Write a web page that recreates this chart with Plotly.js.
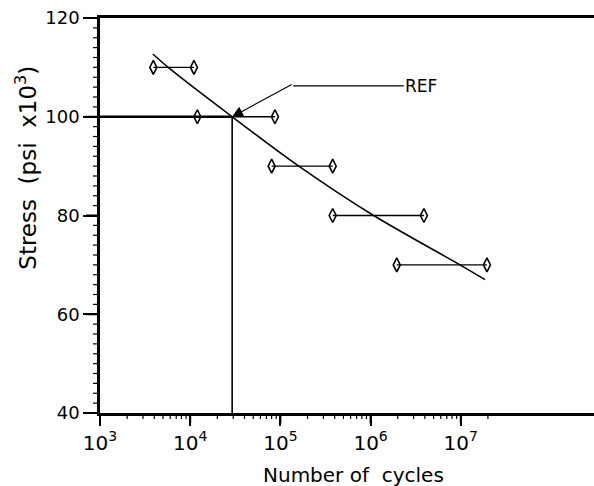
<!DOCTYPE html>
<html>
<head>
<meta charset="utf-8">
<script src="https://cdn.plot.ly/plotly-3.0.1.min.js"></script>
<style>html,body{margin:0;padding:0;background:#fff;}#chart{width:594px;height:486px;}</style>
</head>
<body>
<div id="chart"></div>
<script>
// Test data: stress level (ksi) and the range of cycles to failure
var stressLevels = [110, 100, 90, 80, 70];
var cyclesMin = [3900, 12000, 80000, 380000, 1950000];
var cyclesMax = [11000, 87000, 380000, 3900000, 19500000];

// Fitted S-N curve
var curveCycles = [3850, 5700, 29200, 160000, 1080000, 9800000, 18600000];
var curveStress = [112.7, 110, 100, 90, 80, 70, 67];

// Reference point
var refCycles = 29200;
var refStress = 100;
var axisMinCycles = 1000;
var axisMinStress = 40;

// Tick values and labels
var majorTickVals = [1e3, 1e4, 1e5, 1e6, 1e7];
var majorTickText = ['10<sup>3</sup>', '10<sup>4</sup>', '10<sup>5</sup>', '10<sup>6</sup>', '10<sup>7</sup>'];
var minorDecades = [1e3, 1e4, 1e5, 1e6];
var minorDigits = [2, 3, 4, 5, 6, 7, 8, 9];
var extraMinorTicks = [2e7];
var yMajorTicks = [40, 60, 80, 100, 120];
var yMinorStep = 2;

var minorTickVals = [];
minorDecades.forEach(function (d) {
  minorDigits.forEach(function (k) { minorTickVals.push(k * d); });
});
minorTickVals = minorTickVals.concat(extraMinorTicks);
var yMinorTicks = [];
for (var s = yMajorTicks[0]; s <= yMajorTicks[yMajorTicks.length - 1]; s += yMinorStep) {
  if (yMajorTicks.indexOf(s) < 0) yMinorTicks.push(s);
}

var rangeX = [], rangeY = [];
for (var i = 0; i < stressLevels.length; i++) {
  rangeX.push(cyclesMin[i], cyclesMax[i], null);
  rangeY.push(stressLevels[i], stressLevels[i], null);
}

// tick-mark segments, drawn in thin strip subplots that share the main scales
function xTickSegs(vals, tipLevel) {
  var xs = [], ys = [];
  vals.forEach(function (v) { xs.push(v, v, null); ys.push(1, tipLevel, null); });
  return {x: xs, y: ys};
}
function yTickSegs(vals, tipLevel) {
  var xs = [], ys = [];
  vals.forEach(function (v) { xs.push(1, tipLevel, null); ys.push(v, v, null); });
  return {x: xs, y: ys};
}
var xMajorSeg = xTickSegs(majorTickVals, 0);
var xMinorSeg = xTickSegs(minorTickVals, 0.4);
var yMajorSeg = yTickSegs(yMajorTicks, 0);
var yMinorSeg = yTickSegs(yMinorTicks, 0.5);

var font = 'DejaVu Sans, sans-serif';
var xRange = [3, 8.477];
var yRange = [40, 120];
var xDom = [14 / 508, 1];
var yDom = [10 / 405, 1];

var traces = [
  {
    x: [axisMinCycles, refCycles], y: [refStress, refStress],
    mode: 'lines', line: {color: '#000', width: 2.5}, hoverinfo: 'skip'
  },
  {
    x: [refCycles, refCycles], y: [refStress, axisMinStress],
    mode: 'lines', line: {color: '#000', width: 1.6}, hoverinfo: 'skip'
  },
  {
    x: rangeX, y: rangeY, mode: 'lines+markers',
    line: {color: '#000', width: 1.3},
    marker: {symbol: 'diamond-tall-open', size: 10, color: '#000', line: {color: '#000', width: 1.6}}
  },
  {
    x: curveCycles, y: curveStress, mode: 'lines',
    line: {color: '#000', width: 1.5, shape: 'spline', smoothing: 0.8}
  },
  {x: xMajorSeg.x, y: xMajorSeg.y, xaxis: 'x2', yaxis: 'y2', mode: 'lines', line: {color: '#000', width: 2}, hoverinfo: 'skip'},
  {x: xMinorSeg.x, y: xMinorSeg.y, xaxis: 'x2', yaxis: 'y2', mode: 'lines', line: {color: '#000', width: 1.2}, hoverinfo: 'skip'},
  {x: yMajorSeg.x, y: yMajorSeg.y, xaxis: 'x3', yaxis: 'y3', mode: 'lines', line: {color: '#000', width: 2}, hoverinfo: 'skip'},
  {x: yMinorSeg.x, y: yMinorSeg.y, xaxis: 'x3', yaxis: 'y3', mode: 'lines', line: {color: '#000', width: 1.2}, hoverinfo: 'skip'}
];

var hiddenAxis = {visible: false, showgrid: false, zeroline: false, fixedrange: true};

var layout = {
  width: 594, height: 486,
  margin: {l: 86, r: 0, t: 18, b: 63},
  paper_bgcolor: '#fff', plot_bgcolor: 'rgba(0,0,0,0)',
  showlegend: false,
  hovermode: false,
  font: {family: font, color: '#000', size: 18},
  xaxis: {
    type: 'log', range: xRange, domain: xDom, anchor: 'y',
    showgrid: false, zeroline: false,
    showline: true, linecolor: '#000', linewidth: 2.5, mirror: true,
    ticks: 'outside', ticklen: 10, tickwidth: 2, tickcolor: '#000',
    tickmode: 'array', tickvals: majorTickVals, ticktext: majorTickText,
    tickfont: {family: font, size: 20}
  },
  yaxis: {
    range: yRange, domain: yDom, anchor: 'x',
    showgrid: false, zeroline: false,
    showline: true, linecolor: '#000', linewidth: 2.5,
    ticks: 'outside', ticklen: 14, tickwidth: 2, tickcolor: '#000',
    tickmode: 'array', tickvals: yMajorTicks,
    tickfont: {family: font, size: 18}
  },
  xaxis2: Object.assign({type: 'log', range: xRange, domain: xDom, anchor: 'y2'}, hiddenAxis),
  yaxis2: Object.assign({range: [0, 1], domain: [0, yDom[0]], anchor: 'x2'}, hiddenAxis),
  xaxis3: Object.assign({range: [0, 1], domain: [0, xDom[0]], anchor: 'y3'}, hiddenAxis),
  yaxis3: Object.assign({range: yRange, domain: yDom, anchor: 'x3'}, hiddenAxis),
  annotations: [
    {
      xref: 'x domain', yref: 'y domain', x: -0.149, y: 0.622,
      text: 'Stress\u00a0 (psi\u00a0 x10<sup>3</sup>)', textangle: -90,
      showarrow: false, font: {family: font, size: 23}, xanchor: 'center', yanchor: 'middle'
    },
    {
      xref: 'x domain', yref: 'y domain', x: 0.513, y: -0.157,
      text: 'Number of\u00a0 cycles',
      showarrow: false, font: {family: font, size: 20}, xanchor: 'center', yanchor: 'middle'
    },
    {
      xref: 'x', yref: 'y', x: Math.log10(refCycles), y: refStress,
      text: '', showarrow: true, arrowhead: 2, arrowsize: 1.8, arrowwidth: 1.2, arrowcolor: '#000',
      ax: 61, ay: -33, standoff: 0
    },
    {
      xref: 'x domain', yref: 'y domain', x: 0.613, y: 0.828,
      text: 'REF', showarrow: false, xanchor: 'left', yanchor: 'middle',
      font: {family: font, size: 17}
    }
  ],
  shapes: [
    {
      type: 'line', xref: 'x domain', yref: 'y domain',
      x0: 0.391, x1: 0.615, y0: 0.828, y1: 0.828,
      line: {color: '#000', width: 1.2}
    }
  ]
};

Plotly.newPlot('chart', traces, layout, {displayModeBar: false});
</script>
</body>
</html>
